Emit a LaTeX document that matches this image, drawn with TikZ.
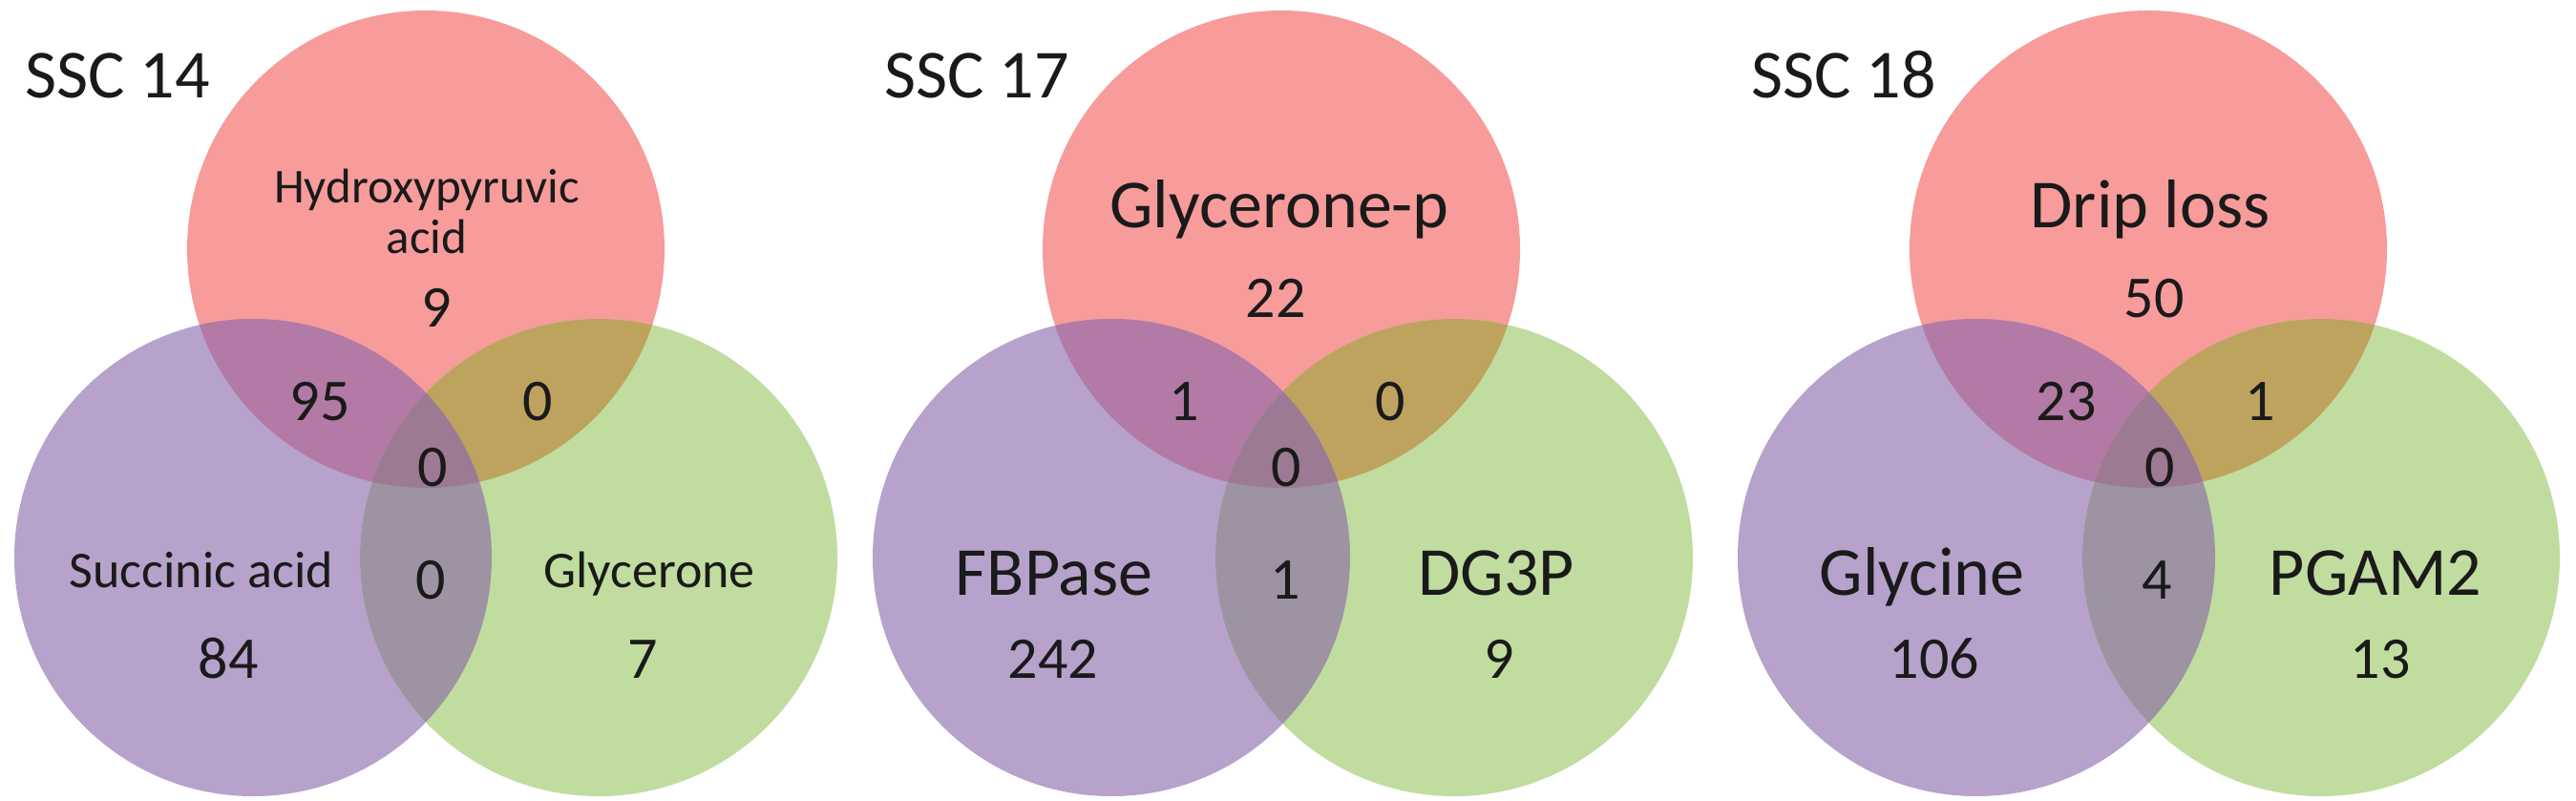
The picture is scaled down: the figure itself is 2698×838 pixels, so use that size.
\documentclass[tikz,border=0pt]{standalone}
\usepackage{fontspec}
\setmainfont{Carlito}
\definecolor{cr}{HTML}{F79B9B}
\definecolor{cp}{HTML}{B6A2CB}
\definecolor{cg}{HTML}{C1DC9F}
\definecolor{crp}{HTML}{B27AA4}
\definecolor{crg}{HTML}{BEA35F}
\definecolor{cpg}{HTML}{9D93A3}
\definecolor{crpg}{HTML}{9C7A94}
\definecolor{txt}{HTML}{1A1A1A}
\tikzset{
  title/.style={font=\fontsize{72}{80}\selectfont, inner sep=0pt, anchor=base west, text=txt},
  biglab/.style={font=\fontsize{72}{80}\selectfont, inner sep=0pt, anchor=base, text=txt},
  smalllab/.style={font=\fontsize{54}{60}\selectfont, inner sep=0pt, anchor=base, text=txt},
  toplab/.style={font=\fontsize{51}{60}\selectfont, inner sep=0pt, anchor=base, text=txt},
  num/.style={font=\fontsize{62}{70}\selectfont, inner sep=0pt, anchor=base, text=txt}
}
\newcommand{\drawvenn}[3]{%
  \fill[cr] (#1) circle (250pt);
  \fill[cp] (#2) circle (250pt);
  \fill[cg] (#3) circle (250pt);
  \begin{scope}
    \clip (#1) circle (250pt);
    \fill[crp] (#2) circle (250pt);
    \fill[crg] (#3) circle (250pt);
  \end{scope}
  \begin{scope}
    \clip (#2) circle (250pt);
    \fill[cpg] (#3) circle (250pt);
  \end{scope}
  \begin{scope}
    \clip (#1) circle (250pt);
    \clip (#2) circle (250pt);
    \fill[crpg] (#3) circle (250pt);
  \end{scope}}
\begin{document}
\begin{tikzpicture}[x=1pt,y=-1pt]
\path[use as bounding box, fill=white] (0,0) rectangle (2698,838);
% centres
\coordinate (r1) at (446,261);
\coordinate (p1) at (265,584);
\coordinate (g1) at (627,584);
\coordinate (r2) at (1342,261);
\coordinate (p2) at (1164,584);
\coordinate (g2) at (1523,584);
\coordinate (r3) at (2250,261);
\coordinate (p3) at (2070,584);
\coordinate (g3) at (2431,584);
\drawvenn{r1}{p1}{g1}
\drawvenn{r2}{p2}{g2}
\drawvenn{r3}{p3}{g3}
% Venn 1
\node[title] (t1) at (26,102) {SSC 14};
\node[toplab] (a1) at (447,212) {Hydroxypyruvic};
\node[toplab] (a1b) at (447,265) {acid};
\node[num] (n1r) at (457,342) {9};
\node[num] (n1rp) at (335,440) {95};
\node[num] (n1rg) at (563,440) {0};
\node[num] (n1c) at (453,509) {0};
\node[num] (n1pg) at (451,627) {0};
\node[smalllab] (b1) at (211,615) {Succinic acid};
\node[num] (n1p) at (239,710) {84};
\node[smalllab] (c1) at (680,615) {Glycerone};
\node[num] (n1g) at (673,710) {7};
% Venn 2
\node[title] (t2) at (926,102) {SSC 17};
\node[biglab] (a2) at (1340,238) {Glycerone-p};
\node[num] (n2r) at (1336,332) {22};
\node[num] (n2rp) at (1240,440) {1};
\node[num] (n2rg) at (1456,440) {0};
\node[num] (n2c) at (1347,509) {0};
\node[num] (n2pg) at (1346,627) {1};
\node[biglab] (b2) at (1104,623) {FBPase};
\node[num] (n2p) at (1103,710) {242};
\node[biglab] (c2) at (1567,623) {DG3P};
\node[num] (n2g) at (1570,710) {9};
% Venn 3
\node[title] (t3) at (1834,102) {SSC 18};
\node[biglab] (a3) at (2252,238) {Drip loss};
\node[num] (n3r) at (2256,332) {50};
\node[num] (n3rp) at (2164,440) {23};
\node[num] (n3rg) at (2367,440) {1};
\node[num] (n3c) at (2262,509) {0};
\node[num] (n3pg) at (2259,627) {4};
\node[biglab] (b3) at (2013,623) {Glycine};
\node[num] (n3p) at (2026,710) {106};
\node[biglab] (c3) at (2488,623) {PGAM2};
\node[num] (n3g) at (2493,710) {13};
\end{tikzpicture}
\end{document}
